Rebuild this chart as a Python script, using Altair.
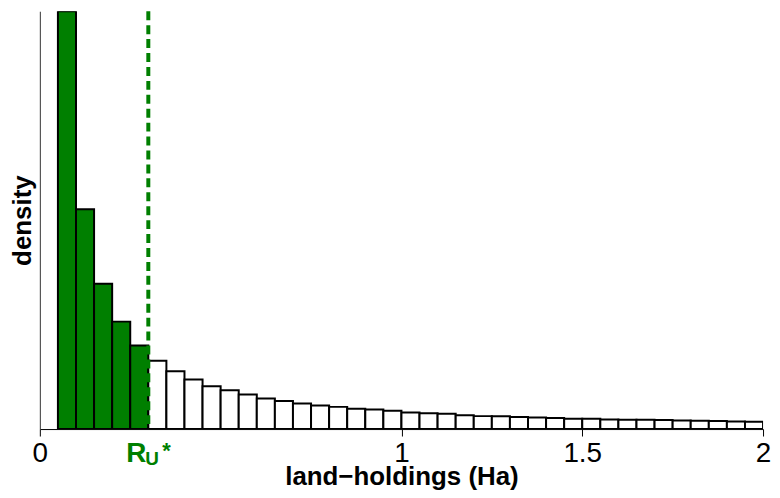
import altair as alt
import pandas as pd

# histogram bins (Ha), width 0.05, from 0.05 to 2.0
bin_starts = [round(0.05 * k, 2) for k in range(1, 40)]
bin_ends = [round(s + 0.05, 2) for s in bin_starts]

# density (arbitrary units, no y tick labels)
density = [4.20, 2.21, 1.46, 1.08, 0.84,
           0.687, 0.580, 0.497, 0.430, 0.390, 0.347, 0.307, 0.283, 0.257, 0.237,
           0.223, 0.205, 0.197, 0.183, 0.167, 0.160, 0.153, 0.140, 0.130, 0.128,
           0.122, 0.117, 0.110, 0.103, 0.103, 0.097, 0.093, 0.093, 0.090, 0.087,
           0.083, 0.080, 0.077, 0.073]

threshold = 0.3  # R_U*
group = ["below" if e <= threshold + 1e-9 else "above" for e in bin_ends]

GREEN = "#007f00"
FONT = "Liberation Sans"

df = pd.DataFrame({"start": bin_starts, "end": bin_ends, "density": density, "group": group})

xscale = alt.Scale(domain=[0, 2], nice=False, zero=False)
yscale = alt.Scale(domain=[0, 4.2], nice=False)

bars = alt.Chart(df).mark_rect(stroke="black", strokeWidth=2, clip=True).encode(
    x=alt.X("start:Q", scale=xscale,
            axis=alt.Axis(values=[0, 1, 1.5, 2], format="~g", title="land\u2212holdings (Ha)",
                          labelFontSize=28, labelFont=FONT, labelColor="black",
                          tickColor="black", domainColor="black", tickSize=7, tickWidth=1,
                          labelPadding=4, grid=False, labelFlush=False,
                          titleFont=FONT, titleFontSize=26, titleFontWeight="bold",
                          titleColor="black", titlePadding=-4)),
    x2="end:Q",
    y=alt.Y("density:Q", scale=yscale,
            axis=alt.Axis(ticks=False, labels=False, grid=False, domainColor="#333333",
                          title="density", titleFont=FONT, titleFontSize=26,
                          titleFontWeight="bold", titleColor="black", titlePadding=4)),
    y2=alt.datum(0),
    fill=alt.Fill("group:N", scale=alt.Scale(domain=["below", "above"], range=[GREEN, "white"]),
                  legend=None),
)

line_df = pd.DataFrame({"x": [threshold]})
rule = alt.Chart(line_df).mark_rule(color=GREEN, strokeWidth=4, strokeDash=[9, 5]).encode(
    x=alt.X("x:Q", scale=xscale)
)

lab_df = pd.DataFrame({"x": [threshold]})
r_txt = alt.Chart(lab_df).mark_text(text="R", font=FONT, fontSize=28, fontWeight="bold",
                                   color=GREEN, align="right", baseline="alphabetic", dx=-2).encode(
    x=alt.X("x:Q", scale=xscale), y=alt.value(453))
u_txt = alt.Chart(lab_df).mark_text(text="U", font=FONT, fontSize=19, fontWeight="bold",
                                   color=GREEN, align="left", baseline="alphabetic", dx=-3).encode(
    x=alt.X("x:Q", scale=xscale), y=alt.value(456))
s_txt = alt.Chart(lab_df).mark_text(text="*", font=FONT, fontSize=22, fontWeight="bold",
                                   color=GREEN, align="left", baseline="alphabetic", dx=14).encode(
    x=alt.X("x:Q", scale=xscale), y=alt.value(449))

chart = alt.layer(bars, rule, r_txt, u_txt, s_txt).properties(
    width=727, height=420,
    autosize=alt.AutoSizeParams(type="none"),
    padding={"left": 32, "top": 2, "right": 9, "bottom": 60},
).configure_view(stroke=None)

chart.save("out.html", embed_options={"renderer": "svg", "actions": False})
